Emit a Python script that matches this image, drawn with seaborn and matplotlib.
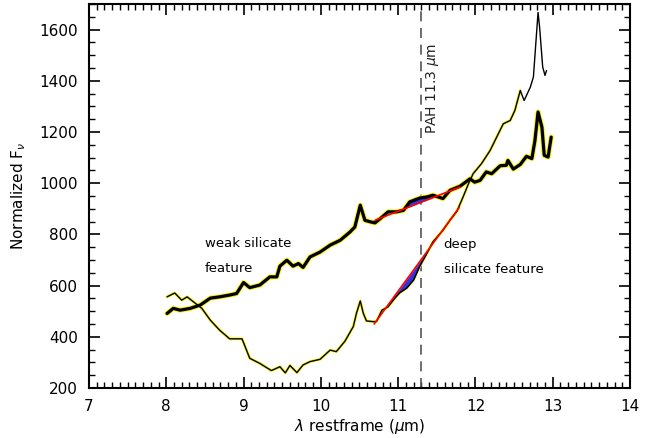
import numpy as np
import pandas as pd
import matplotlib
matplotlib.use("Agg")
import matplotlib.pyplot as plt
import seaborn as sns
from matplotlib.ticker import MultipleLocator

# ---- data ----
weak_x = [8.01, 8.09, 8.18, 8.31, 8.44, 8.57, 8.69, 8.82, 8.91, 9.00, 9.08, 9.21, 9.34, 9.43,
          9.47, 9.56, 9.64, 9.71, 9.77, 9.86, 9.99, 10.12, 10.25, 10.38, 10.44, 10.51, 10.57,
          10.64, 10.70, 10.77, 10.87, 10.98, 11.07, 11.15, 11.28, 11.37, 11.45, 11.58, 11.67,
          11.80, 11.93, 11.99, 12.06, 12.14, 12.21, 12.32, 12.40, 12.42, 12.49, 12.58, 12.66,
          12.73, 12.77, 12.81, 12.86, 12.89, 12.94, 12.98]
weak_y = [491, 511, 504, 511, 524, 551, 556, 563, 569, 612, 592, 602, 634, 634,
          676, 699, 676, 686, 671, 712, 731, 758, 777, 810, 829, 914, 855,
          849, 845, 862, 888, 888, 894, 927, 942, 946, 953, 940, 972,
          988, 1017, 1004, 1011, 1044, 1037, 1068, 1070, 1089, 1055, 1073, 1105,
          1096, 1167, 1278, 1219, 1109, 1102, 1180]

deep_x = [8.01, 8.11, 8.20, 8.27, 8.35, 8.46, 8.57, 8.69, 8.82, 8.98, 9.08, 9.21, 9.36, 9.47,
          9.54, 9.60, 9.69, 9.77, 9.86, 9.99, 10.12, 10.20, 10.31, 10.42, 10.46, 10.51, 10.55,
          10.59, 10.68, 10.72, 10.79, 10.87, 10.96, 11.02, 11.11, 11.20, 11.28, 11.37, 11.45,
          11.58, 11.67, 11.76, 11.84, 11.91, 11.97, 12.08, 12.19, 12.36, 12.45, 12.51, 12.58,
          12.63, 12.71, 12.75, 12.79, 12.81, 12.83, 12.87, 12.90, 12.92]
deep_y = [556, 571, 543, 556, 537, 511, 465, 426, 392, 392, 316, 296, 268, 283,
          259, 288, 260, 290, 303, 312, 348, 342, 382, 440, 491, 540, 491,
          462, 459, 460, 504, 517, 552, 572, 590, 622, 676, 725, 771,
          816, 855, 890, 946, 998, 1037, 1077, 1128, 1232, 1245, 1284, 1362,
          1323, 1375, 1415, 1583, 1667, 1610, 1454, 1421, 1440]

# continuum (red) lines: end points
weak_cont_x = [10.70, 11.80]
weak_cont_y = [855, 985]
deep_cont_x = [10.69, 11.79]
deep_cont_y = [450, 905]

pah_x = 11.3
x_ticks = [7, 8, 9, 10, 11, 12, 13, 14]
y_ticks = [200, 400, 600, 800, 1000, 1200, 1400, 1600]

sns.set_style("ticks")
plt.rcParams['font.family'] = ['DejaVu Sans']
for k in ["text.color", "axes.labelcolor", "xtick.color", "ytick.color"]:
    plt.rcParams[k] = "black"
plt.rcParams["lines.solid_joinstyle"] = "round"
plt.rcParams["lines.solid_capstyle"] = "round"

fig = plt.figure(figsize=(6.62, 4.38), dpi=100)
ax = fig.add_axes([0.1344, 0.1142, 0.9517 - 0.1344, 0.9909 - 0.1142])

weak_df = pd.DataFrame({"x": weak_x, "y": weak_y})
deep_df = pd.DataFrame({"x": deep_x, "y": deep_y})
wc_df = pd.DataFrame({"x": weak_cont_x, "y": weak_cont_y})
dc_df = pd.DataFrame({"x": deep_cont_x, "y": deep_cont_y})

# yellow halos
sns.lineplot(data=weak_df, x="x", y="y", ax=ax, color="#f5f000", linewidth=3.6,
             estimator=None, sort=False, zorder=2)
sns.lineplot(data=deep_df[deep_df["x"] <= 12.6], x="x", y="y", ax=ax, color="#f5f000",
             linewidth=2.0, estimator=None, sort=False, zorder=2)

# blue filled areas between spectrum and continuum
wx = np.array(weak_x, float); wy = np.array(weak_y, float)
wl = np.interp(wx, weak_cont_x, weak_cont_y)
mask_w = (wx >= 11.07) & (wx <= 11.5)
ax.fill_between(wx, wl, wy, where=mask_w & (wy > wl), interpolate=True,
                color="#3333dd", zorder=3, linewidth=0)
dx = np.array(deep_x, float); dy = np.array(deep_y, float)
dl = np.interp(dx, deep_cont_x, deep_cont_y)
mask_d = (dx >= 10.96) & (dx <= 11.4)
ax.fill_between(dx, dl, dy, where=mask_d & (dy < dl), interpolate=True,
                color="#3333dd", zorder=3, linewidth=0)

# black spectra
sns.lineplot(data=weak_df, x="x", y="y", ax=ax, color="black", linewidth=2.3,
             estimator=None, sort=False, zorder=4)
sns.lineplot(data=deep_df, x="x", y="y", ax=ax, color="black", linewidth=1.0,
             estimator=None, sort=False, zorder=4)

# red continuum lines
sns.lineplot(data=wc_df, x="x", y="y", ax=ax, color="red", linewidth=1.2,
             estimator=None, sort=False, zorder=5)
sns.lineplot(data=dc_df, x="x", y="y", ax=ax, color="red", linewidth=1.2,
             estimator=None, sort=False, zorder=5)

# PAH line
ax.axvline(pah_x, color="#555555", linewidth=1.2, linestyle=(0, (6, 4)), zorder=1)
ax.text(11.44, 1370, "PAH 11.3 $\\mu$m", rotation=90, ha="center", va="center",
        fontsize=10, color="#222222")

ax.text(8.5, 765, "weak silicate", fontsize=9.5, ha="left", va="center")
ax.text(8.5, 668, "feature", fontsize=9.5, ha="left", va="center")
ax.text(11.59, 762, "deep", fontsize=9.5, ha="left", va="center")
ax.text(11.59, 664, "silicate feature", fontsize=9.5, ha="left", va="center")

ax.set_xlim(7, 14)
ax.set_ylim(200, 1700)
ax.set_xticks(x_ticks)
ax.set_yticks(y_ticks)
ax.set_xticklabels([str(t) for t in x_ticks])
ax.set_yticklabels([str(t) for t in y_ticks])
ax.xaxis.set_minor_locator(MultipleLocator(0.1))
ax.yaxis.set_minor_locator(MultipleLocator(50))
ax.tick_params(which="both", direction="in", top=True, right=True, color="black")
ax.tick_params(which="major", length=8, width=1.2, labelsize=11, pad=8)
ax.tick_params(which="minor", length=4, width=1.0)
for s in ax.spines.values():
    s.set_visible(True)
    s.set_linewidth(1.5)
    s.set_color("black")

ax.set_xlabel("$\\lambda$ restframe ($\\mu$m)", fontsize=11, labelpad=2)
ax.set_ylabel("Normalized F$_\\nu$", fontsize=11, labelpad=8)

fig.savefig("out.png", dpi=100)
